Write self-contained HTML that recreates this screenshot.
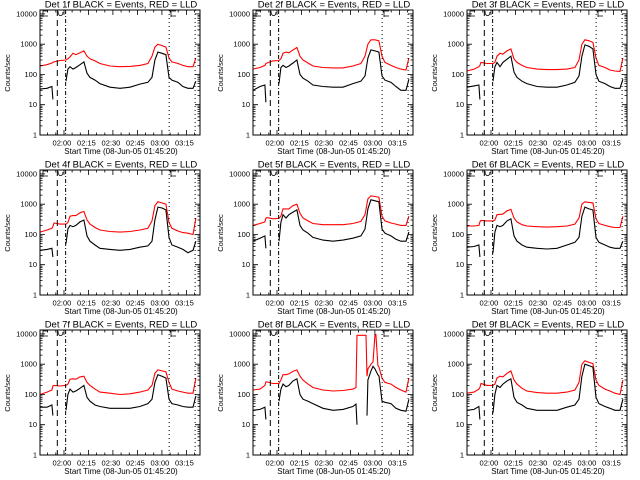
<!DOCTYPE html>
<html><head><meta charset="utf-8"><style>
html,body{margin:0;padding:0;background:#fff;}
svg{display:block;font-family:"Liberation Sans",sans-serif;}
</style></head><body>
<svg id="chart" width="640" height="480" viewBox="0 0 640 480" xmlns="http://www.w3.org/2000/svg">
<rect x="0" y="0" width="640" height="480" fill="#fff"/>
</svg>
<script>
// time in minutes since 01:45:20
const T = [0,4.3,7.3,7.9,8.6,12.2,15.9,17.1,18.4,20.2,22.0,24.5,26.9,28.8,30.6,33.7,36.7,42.9,49.0,55.1,61.2,66.1,68.6,70.4,72.2,74.7,77.1,79.0,80.8,84.5,87.5,90.6,93.7,95.5];
const T8 = [0,4.3,7.3,7.9,8.6,12.2,15.9,17.1,18.4,20.2,22.0,24.5,26.9,28.8,30.6,33.7,36.7,42.9,49.0,55.1,61.2,63.1,63.7,64.3,69.2,69.8,70.4,72.3,73.5,74.7,75.3,76.5,77.2,79.0,80.8,84.5,87.5,90.6,93.7,95.5];
const detNames = ["1f","2f","3f","4f","5f","6f","7f","8f","9f"];
const B1 = [33,35,40,15,null,null,60,150,180,150,170,210,260,110,80,65,50,38,35,38,48,55,80,300,550,500,450,80,65,55,40,35,35,60];
const R1 = [190,210,240,250,260,290,300,330,380,500,450,520,600,400,330,280,230,190,180,185,200,230,400,800,1000,900,800,350,260,230,200,180,180,350];
const B2 = [30,40,45,12,null,null,50,170,200,170,190,240,300,100,75,60,45,40,38,38,50,60,90,350,650,600,550,90,65,55,40,30,30,70];
const R2 = [150,170,200,230,240,280,290,330,500,550,520,650,780,400,300,240,190,170,165,165,190,230,400,1000,1400,1400,1300,400,250,200,170,150,140,350];
const B3 = [38,42,45,15,null,null,60,180,250,180,250,320,400,120,80,60,50,40,38,38,45,55,90,400,950,850,700,100,60,50,40,35,35,70];
const R3 = [130,150,180,200,250,230,230,250,400,500,470,600,700,330,250,200,170,150,145,145,150,170,300,1000,1400,1300,1150,350,200,170,140,130,125,350];
const B4 = [30,32,35,18,null,null,50,150,200,180,200,260,300,90,60,45,35,32,30,32,38,42,60,300,800,750,650,80,45,38,32,25,30,60];
const R4 = [120,140,160,180,240,220,220,250,400,420,420,520,580,300,220,170,140,125,120,125,140,160,280,900,1200,1100,1000,250,160,130,115,110,100,350];
const B5 = [60,75,90,35,null,null,60,250,450,350,450,550,650,200,140,110,80,65,60,65,75,90,150,700,1400,1300,1200,150,110,90,70,60,60,120];
const R5 = [200,230,260,350,360,330,340,400,700,700,700,900,1000,500,350,280,230,210,210,210,230,270,450,1500,1900,1800,1700,400,280,240,220,200,200,400];
const B6 = [38,40,45,18,null,null,25,120,200,180,200,280,330,90,60,45,38,35,33,35,45,55,80,400,800,700,650,80,55,45,38,35,35,60];
const R6 = [190,190,200,260,290,280,280,300,450,460,470,600,680,350,260,210,190,180,175,180,190,220,350,1000,1200,1150,1100,330,230,200,180,170,170,400];
const B7 = [38,38,45,20,null,null,30,100,150,120,130,160,200,80,60,45,40,35,35,35,40,50,70,250,450,400,350,70,50,45,40,38,38,90];
const R7 = [100,120,140,190,200,190,200,220,320,330,320,380,400,250,200,150,120,110,100,105,120,140,200,500,650,600,560,250,150,130,120,110,110,350];
const B8 = [30,32,38,15,null,null,60,150,220,180,200,280,330,100,70,60,50,35,30,32,40,48,10,null,null,20,300,600,850,700,600,450,400,60,55,50,35,30,28,70];
const R8 = [140,150,200,260,260,230,230,300,450,450,480,580,650,400,300,220,170,140,130,135,150,170,9000,9000,9000,400,700,1000,1200,9500,9500,900,800,350,250,220,170,140,120,350];
const B9 = [30,32,40,15,null,null,25,100,200,170,220,280,330,80,55,45,35,30,30,30,38,45,70,400,1000,900,800,80,50,40,35,30,30,70];
const R9 = [110,120,150,170,230,200,200,220,350,400,380,500,600,300,220,160,130,115,110,110,120,140,250,1000,1300,1150,1050,300,200,150,130,110,100,300];
const yTickValues = [1,10,100,1000,10000];
const yTickLabels = ["1","10","100","1000","10000"];
const xTickMinutes = [14.67,29.67,44.67,59.67,74.67,89.67];
const xTickLabels = ["02:00","02:15","02:30","02:45","03:00","03:15"];
const markerMinutes = [10.6,15.7,79.1,95.0];

const panelsB = [B1,B2,B3,B4,B5,B6,B7,B8,B9];
const panelsR = [R1,R2,R3,R4,R5,R6,R7,R8,R9];
const panelsT = [T,T,T,T,T,T,T,T8,T];

const NS = "http://www.w3.org/2000/svg";
const svg = document.getElementById("chart");
const PL = 40, PR = 200, PT = 10, PB = 135, TMAX = 98, LMAX = 4.13;
function xs(t){ return PL + t/TMAX*(PR-PL); }
function ys(v){ return PB - Math.log10(v)/LMAX*(PB-PT); }
function mk(tag, attrs, parent){
  const e = document.createElementNS(NS, tag);
  for (const k in attrs) e.setAttribute(k, attrs[k]);
  parent.appendChild(e);
  return e;
}

for (let p = 0; p < 9; p++) {
  const col = p % 3, row = Math.floor(p/3);
  const g = mk("g", {transform: "translate(" + Math.round(col*213.33) + "," + row*160 + ")"}, svg);
  
  

  const drawSeries = (vals, color, name) => {
    const Ts = panelsT[p];
    let d = "", pen = false;
    for (let i = 0; i < vals.length; i++) {
      if (vals[i] === null) { pen = false; continue; }
      const x = xs(Ts[i]).toFixed(1), y = Math.max(PT, ys(vals[i])).toFixed(1);
      d += (pen ? "L" : "M") + x + "," + y;
      pen = true;
    }
    const path = mk("path", {d: d, fill: "none", stroke: color, "stroke-width": 1.1}, g);
    
    
  };
  drawSeries(panelsR[p], "#ff0000", "lld-series-red");
  drawSeries(panelsB[p], "#000000", "events-series-black");

  const styles = ["6,4", "4,2,1,2", "1,3", "1,3"];
  markerMinutes.forEach((m, i) => {
    const l = mk("line", {x1: xs(m), x2: xs(m), y1: PT, y2: PB, stroke: "#000", "stroke-width": 1, "stroke-dasharray": styles[i]}, g);
    
    
  });
  const deco = mk("path", {d: "M43,17V11H48M43,16H48M58,11C58,17 63,17 63,12M171,17V11H176M171,16H176", fill: "none", stroke: "#000", "stroke-width": 0.8}, g);
  
  

  const fr = mk("rect", {x: PL, y: PT, width: PR-PL, height: PB-PT, fill: "none", stroke: "#000", "stroke-width": 1}, g);
  
  

  let td = "";
  for (let dec = 0; dec < 5; dec++) {
    for (let k = 1; k <= 9; k++) {
      const v = Math.pow(10, dec) * k;
      if (v > 13000) break;
      const y = ys(v).toFixed(1);
      const len = k === 1 ? 5 : 2.5;
      td += "M" + PL + "," + y + "h" + len + "M" + PR + "," + y + "h-" + len;
    }
  }
  for (let m = -0.33; m <= TMAX; m += 5) {
    if (m < 0) continue;
    const x = xs(m).toFixed(1);
    const major = xTickMinutes.some(t => Math.abs(t - m) < 0.5);
    const len = major ? 5 : 2.5;
    td += "M" + x + "," + PB + "v-" + len + "M" + x + "," + PT + "v" + len;
  }
  const ticks = mk("path", {d: td, stroke: "#000", "stroke-width": 0.8, fill: "none"}, g);
  
  

  yTickValues.forEach((v, i) => {
    const t = mk("text", {x: 37, y: ys(v) + 2.5, "text-anchor": "end", "font-size": 7.5}, g);
    t.textContent = yTickLabels[i];
    
    
  });
  xTickMinutes.forEach((m, i) => {
    const t = mk("text", {x: xs(m) - 2, y: 145.5, "text-anchor": "middle", "font-size": 7.5}, g);
    t.textContent = xTickLabels[i];
    
    
  });
  const xt = mk("text", {x: 121, y: 154, "text-anchor": "middle", "font-size": 8}, g);
  xt.textContent = "Start Time (08-Jun-05 01:45:20)";
  
  
  const yt = mk("text", {x: 0, y: 0, "text-anchor": "middle", "font-size": 7.5, transform: "translate(10,73) rotate(-90)"}, g);
  yt.textContent = "Counts/sec";
  
  
  const tt = mk("text", {x: 121, y: 7.5, "text-anchor": "middle", "font-size": 9.5}, g);
  tt.textContent = "Det " + detNames[p] + " BLACK = Events, RED = LLD";
  
  
}
</script>
</body></html>
